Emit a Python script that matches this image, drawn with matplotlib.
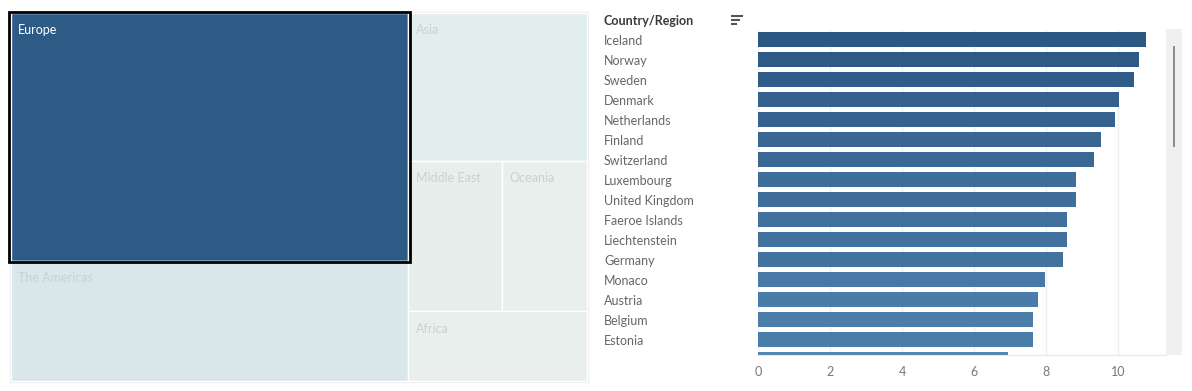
import matplotlib
matplotlib.use('Agg')
import matplotlib.pyplot as plt
from matplotlib.patches import Rectangle
from matplotlib.lines import Line2D
from matplotlib.colors import LinearSegmentedColormap, Normalize

plt.rcParams['font.family'] = ['Lato', 'DejaVu Sans']

# treemap: region sizes
regions = ['Europe', 'The Americas', 'Asia', 'Middle East', 'Oceania', 'Africa']
region_size = [98.7, 47.8, 26.5, 14.1, 12.8, 12.5]
region_color = ['#2e5a86', '#d9e7eb', '#e2eded', '#e7efec', '#e9efec', '#e9efec']

# bar chart
countries = ['Iceland', 'Norway', 'Sweden', 'Denmark', 'Netherlands', 'Finland',
             'Switzerland', 'Luxembourg', 'United Kingdom', 'Faeroe Islands',
             'Liechtenstein', 'Germany', 'Monaco', 'Austria', 'Belgium', 'Estonia',
             'Slovakia']
values = [10.76, 10.59, 10.43, 10.01, 9.90, 9.51, 9.34, 8.82, 8.82, 8.59,
          8.57, 8.48, 7.98, 7.76, 7.62, 7.62, 6.93]
xticks = [0, 2, 4, 6, 8, 10]

W, H = 1192, 391
fig = plt.figure(figsize=(W / 100, H / 100), dpi=100)

# ---- treemap, drawn in pixel coordinates ----
tm = fig.add_axes([0, 0, 1, 1])
tm.set_xlim(0, W); tm.set_ylim(H, 0); tm.axis('off')
x0, y0, x1, y1 = 10.5, 13, 587, 381
tw, th = x1 - x0, y1 - y0
s = dict(zip(regions, region_size))
c = dict(zip(regions, region_color))
total = sum(region_size)
left_sum = s['Europe'] + s['The Americas']
right_sum = total - left_sum
lw_ = tw * left_sum / total
eu_h = th * s['Europe'] / left_sum
asia_h = th * s['Asia'] / right_sum
mid_h = th * (s['Middle East'] + s['Oceania']) / right_sum
me_w = (tw - lw_) * s['Middle East'] / (s['Middle East'] + s['Oceania'])
cells = {
    'Europe': (x0, y0, lw_, eu_h),
    'The Americas': (x0, y0 + eu_h, lw_, th - eu_h),
    'Asia': (x0 + lw_, y0, tw - lw_, asia_h),
    'Middle East': (x0 + lw_, y0 + asia_h, me_w, mid_h),
    'Oceania': (x0 + lw_ + me_w, y0 + asia_h, tw - lw_ - me_w, mid_h),
    'Africa': (x0 + lw_, y0 + asia_h + mid_h, tw - lw_, th - asia_h - mid_h),
}
tm.add_patch(Rectangle((x0 - 1, y0 - 1), tw + 2, th + 2, fill=False, ec='#eeeeee', lw=1))
for r in regions:
    cx, cy, cw, ch = cells[r]
    tm.add_patch(Rectangle((cx, cy), cw, ch, fc=c[r], ec='white', lw=1))
    col = 'white' if r == 'Europe' else '#c9d1d1'
    tm.text(cx + 7.5, cy + 17.5, r, fontsize=9, color=col, va='center', ha='left')
# selection highlight on Europe
ex, ey, ew, eh = cells['Europe']
tm.add_patch(Rectangle((ex - 1.5, ey - 1.5), ew + 3, eh + 3, fill=False, ec='black', lw=2))

# ---- bar chart ----
ax_l, ax_r, ax_t, ax_b = 758.3, 1165.7, 29.5, 355
ax = fig.add_axes([ax_l / W, (H - ax_b) / H, (ax_r - ax_l) / W, (ax_b - ax_t) / H])
cmap = LinearSegmentedColormap.from_list('tb', ['#5384b2', '#2c5884'])
norm = Normalize(min(values), max(values))
ypos = list(range(len(countries)))
ax.barh(ypos, values, height=0.73, color=[cmap(norm(v)) for v in values], zorder=2)
ax.set_xlim(0, 11.32)
ax.set_ylim(15.775, -0.5)
ax.set_xticks(xticks)
ax.set_xticklabels([str(t) for t in xticks], color='#777777', fontsize=9)
ax.tick_params(axis='x', length=0, pad=8)
ax.set_yticks([])
for t in xticks:
    ax.axvline(t, color='#efefef', lw=1, zorder=1)
for sp in ['top', 'right', 'left']:
    ax.spines[sp].set_visible(False)
ax.spines['bottom'].set_color('#e8e8e8')

# row labels (clipped like the scrolling pane)
lab = fig.add_axes([595 / W, (H - ax_b) / H, (ax_l - 595) / W, (ax_b - ax_t) / H])
lab.set_xlim(0, 1); lab.set_ylim(15.775, -0.5); lab.axis('off')
for i, name in enumerate(countries):
    lab.text(9 / (ax_l - 595), i + 0.08, name, fontsize=9, color='#666666', va='center',
             ha='left', clip_on=True)

fig.text(604 / W, 1 - 21 / H, 'Country/Region', fontsize=9, color='#3a3a3a',
         fontweight='bold', va='center', ha='left')
# sort icon
for yy, xe in [(16, 742), (20, 739), (24, 735.7)]:
    tm.add_line(Line2D([731.7, xe], [yy, yy], color='#555555', lw=1.5))

# scrollbar
tm.add_patch(Rectangle((1166, 29), 16, 326, fc='#f0f0f0', ec='none'))
tm.add_patch(Rectangle((1173, 46), 2, 101, fc='#8c8c8c', ec='none'))

fig.savefig('out.png', dpi=100)
